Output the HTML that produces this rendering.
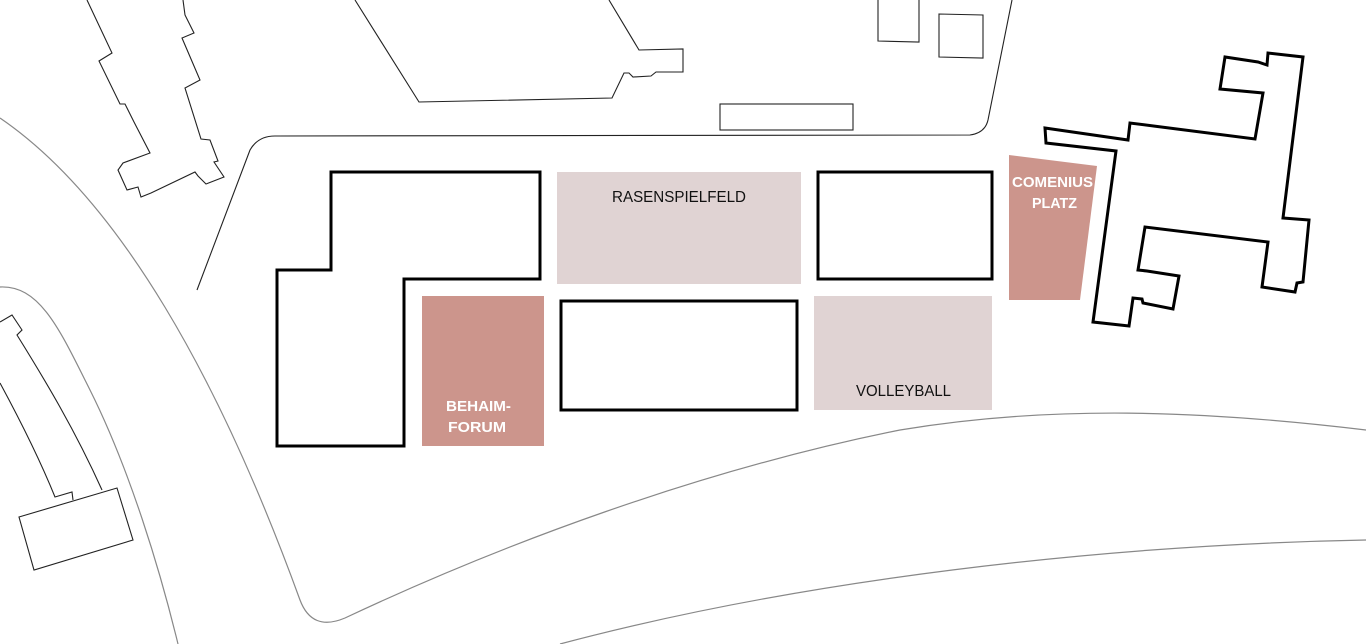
<!DOCTYPE html>
<html><head><meta charset="utf-8"><style>
html,body{margin:0;padding:0;background:#fff;width:1366px;height:644px;overflow:hidden}
svg{display:block}
text{font-family:"Liberation Sans",sans-serif}
</style></head><body>
<svg width="1366" height="644" viewBox="0 0 1366 644" xmlns="http://www.w3.org/2000/svg">
<g fill="none" stroke="#888" stroke-width="1.2">
<path d="M0,118 C120,200 220,380 300,600 Q312,632 345,618 C500,545 700,470 900,430 C1050,405 1200,410 1366,430"/>
<path d="M0,287 C40,285 60,330 90,390 C130,470 160,570 178,644"/>
<path d="M560,644 C800,580 1100,545 1366,540"/>
</g>
<g fill="none" stroke="#222" stroke-width="1.1">
<path d="M87,0 L112,53 L99,61 L120,104 L125,104 L134,122 L150,153 L123,163 L118,170 L127,190 L138,187 L141,197 L151,193 L195,172 L198,176 L206,184 L224,177 L214,162 L218,161 L210,140 L201,139 L185,88 L200,80 L182,38 L194,33 L185,15 L183,0"/>
<path d="M355,0 L419,102 L612,98 L624,73 L629,73 L633,77 L651,76 L656,72 L683,72 L683,49 L639,50 L609,0"/>
<path d="M197,290 L250,150 Q258,136 275,136 L970,135 Q985,133 988,120 L1012,0"/>
<rect x="720" y="104" width="133" height="26"/>
<path d="M878,0 L878,41 L919,42 L919,0"/>
<path d="M939,14 L983,15 L983,58 L939,57 Z"/>
<path d="M0,322 L12,315 L22,330 L17,335 C45,380 75,430 102,490"/>
<path d="M0,383 C20,420 40,460 55,497 L72,492 L73,500"/>
<path d="M19,517 L117,488 L133,540 L34,570 Z"/>
</g>
<rect x="557" y="172" width="244" height="112" fill="#e0d3d3"/>
<rect x="814" y="296" width="178" height="114" fill="#e0d3d3"/>
<rect x="422" y="296" width="122" height="150" fill="#cc958c"/>
<path d="M1009,155 L1097,166 L1080,300 L1009,300 Z" fill="#cc958c"/>
<g fill="none" stroke="#000" stroke-width="3">
<path d="M331,172 L540,172 L540,279 L404,279 L404,446 L277,446 L277,270 L331,270 Z"/>
<rect x="818" y="172" width="174" height="107"/>
<rect x="561" y="301" width="236" height="109"/>
<path d="M1045,128 L1128,140 L1130,123 L1255,139 L1263,93 L1220,89 L1225,57 L1258,62 L1267,65 L1268,53 L1303,57 L1283,218 L1309,220 L1303,282 L1297,283 L1295,292 L1262,287 L1268,242 L1145,227 L1138,270 L1147,271 L1179,276 L1173,309 L1143,303 L1142,299 L1133,298 L1129,326 L1093,322 L1116,151 L1046,143 Z"/>
</g>
<text x="612" y="202" font-size="16" textLength="134" lengthAdjust="spacingAndGlyphs" fill="#111">RASENSPIELFELD</text>
<text x="856" y="396" font-size="16" textLength="95" lengthAdjust="spacingAndGlyphs" fill="#111">VOLLEYBALL</text>
<g fill="#fff" font-weight="bold" font-size="15">
<text x="446" y="411" textLength="65" lengthAdjust="spacingAndGlyphs">BEHAIM-</text>
<text x="448" y="432" textLength="58" lengthAdjust="spacingAndGlyphs">FORUM</text>
<text x="1012" y="187" textLength="81" lengthAdjust="spacingAndGlyphs">COMENIUS</text>
<text x="1032" y="208" textLength="45" lengthAdjust="spacingAndGlyphs">PLATZ</text>
</g>
</svg>
</body></html>
